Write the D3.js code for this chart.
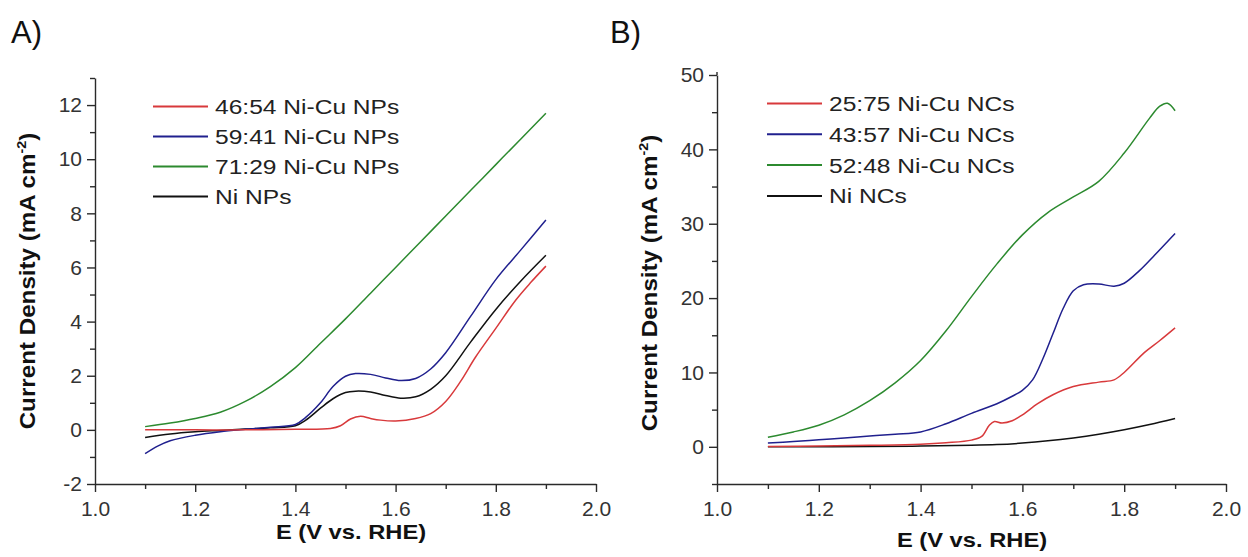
<!DOCTYPE html>
<html><head><meta charset="utf-8">
<script src="https://cdn.jsdelivr.net/npm/d3@7"></script>
<style>
body{margin:0;background:#fff;}
svg{display:block;font-family:"Liberation Sans",Arial,Helvetica,sans-serif;}
</style></head><body>
<svg id="chart" width="1248" height="557"></svg>
<script>
// ---------- data ----------
const xMajorTicks = [1.0, 1.2, 1.4, 1.6, 1.8, 2.0];
const xMinorTicks = [1.1, 1.3, 1.5, 1.7, 1.9];
const xTickLabels = ["1.0", "1.2", "1.4", "1.6", "1.8", "2.0"];
const aYMajorTicks = [-2, 0, 2, 4, 6, 8, 10, 12];
const aYMinorTicks = [-1, 1, 3, 5, 7, 9, 11, 13];
const bYMajorTicks = [0, 10, 20, 30, 40, 50];
const bYMinorTicks = [-5, 5, 15, 25, 35, 45];
const panelLabels = ["A)", "B)"];
const yTitle = "Current Density (mA cm";
const yTitleSup = "-2";
const xTitle = "E (V vs. RHE)";

const aSeriesNames = ["46:54 Ni-Cu NPs", "59:41 Ni-Cu NPs", "71:29 Ni-Cu NPs", "Ni NPs"];
const bSeriesNames = ["25:75 Ni-Cu NCs", "43:57 Ni-Cu NCs", "52:48 Ni-Cu NCs", "Ni NCs"];
const seriesColors = ["#d8393b", "#20208e", "#2c8a2f", "#111111"];

// Panel A series: [E (V), j (mA cm^-2)]
const aRed = [[1.10,0.0],[1.20,0.0],[1.30,0.0],[1.40,0.02],[1.47,0.05],[1.49,0.15],[1.51,0.4],[1.53,0.5],[1.55,0.42],[1.57,0.36],[1.60,0.33],[1.64,0.42],[1.67,0.6],[1.70,1.05],[1.73,1.8],[1.76,2.7],[1.80,3.75],[1.84,4.8],[1.87,5.45],[1.90,6.05]];
const aBlue = [[1.10,-0.88],[1.125,-0.6],[1.15,-0.4],[1.20,-0.2],[1.25,-0.07],[1.30,0.02],[1.35,0.1],[1.40,0.2],[1.42,0.45],[1.45,1.0],[1.475,1.6],[1.50,1.98],[1.52,2.08],[1.55,2.05],[1.58,1.92],[1.61,1.82],[1.64,1.9],[1.67,2.25],[1.70,2.85],[1.75,4.2],[1.80,5.55],[1.85,6.65],[1.90,7.75]];
const aGreen = [[1.10,0.12],[1.15,0.25],[1.20,0.42],[1.25,0.65],[1.30,1.05],[1.35,1.6],[1.40,2.3],[1.45,3.2],[1.50,4.1],[1.55,5.05],[1.60,6.0],[1.65,6.95],[1.70,7.9],[1.75,8.85],[1.80,9.8],[1.85,10.75],[1.90,11.7]];
const aBlack = [[1.10,-0.28],[1.15,-0.15],[1.20,-0.07],[1.25,-0.02],[1.30,0.03],[1.35,0.08],[1.40,0.15],[1.42,0.35],[1.45,0.8],[1.475,1.15],[1.50,1.38],[1.52,1.43],[1.55,1.4],[1.58,1.27],[1.61,1.17],[1.64,1.22],[1.67,1.5],[1.70,2.0],[1.75,3.25],[1.80,4.45],[1.85,5.5],[1.90,6.45]];

// Panel B series
const bRed = [[1.10,0.05],[1.20,0.1],[1.30,0.2],[1.40,0.35],[1.45,0.55],[1.50,0.9],[1.52,1.4],[1.535,2.9],[1.545,3.4],[1.56,3.2],[1.58,3.5],[1.60,4.3],[1.63,5.8],[1.66,7.0],[1.70,8.1],[1.75,8.7],[1.78,9.0],[1.80,10.0],[1.84,12.7],[1.87,14.3],[1.90,16.0]];
const bBlue = [[1.10,0.5],[1.15,0.7],[1.20,0.95],[1.25,1.2],[1.30,1.45],[1.35,1.7],[1.40,2.0],[1.45,3.1],[1.50,4.5],[1.55,5.8],[1.58,6.8],[1.60,7.6],[1.62,9.0],[1.64,11.8],[1.66,15.2],[1.68,18.6],[1.70,21.0],[1.72,21.8],[1.75,21.9],[1.78,21.6],[1.80,22.0],[1.83,23.7],[1.86,25.8],[1.90,28.7]];
const bGreen = [[1.10,1.3],[1.15,2.0],[1.20,2.9],[1.25,4.3],[1.30,6.2],[1.35,8.6],[1.40,11.6],[1.45,15.6],[1.50,20.2],[1.55,24.6],[1.60,28.5],[1.65,31.5],[1.70,33.6],[1.75,35.7],[1.80,39.5],[1.85,44.2],[1.87,45.8],[1.885,46.2],[1.90,45.2]];
const bBlack = [[1.10,0.0],[1.20,0.0],[1.30,0.05],[1.40,0.1],[1.50,0.2],[1.55,0.3],[1.60,0.5],[1.65,0.8],[1.70,1.2],[1.75,1.7],[1.80,2.3],[1.85,3.0],[1.90,3.8]];

// ---------- drawing ----------
const svg = d3.select("#chart");

function drawPanel(p) {
  const g = svg.append("g");
  const x = d3.scaleLinear().domain([1.0, 2.0]).range([p.left, p.right]);
  const y = d3.scaleLinear().domain(p.yDomain).range([p.bottom, p.top]);

  // curves
  const line = d3.line().x(d => x(d[0])).y(d => y(d[1])).curve(d3.curveCatmullRom.alpha(0.5));
  p.order.forEach(i => {
    g.append("path").datum(p.series[i])
      .attr("fill", "none").attr("stroke", seriesColors[i])
      .attr("stroke-width", 1.5).attr("stroke-linejoin", "round")
      .attr("d", line);
  });

  // axes
  const axStroke = "#2a2a2a";
  const xMinor = g.append("g").attr("transform", `translate(0,${p.bottom})`)
    .call(d3.axisBottom(x).tickValues(xMinorTicks).tickSize(5).tickFormat(""));
  const xMajor = g.append("g").attr("transform", `translate(0,${p.bottom})`)
    .call(d3.axisBottom(x).tickValues(xMajorTicks).tickSize(8).tickSizeOuter(0).tickPadding(9)
      .tickFormat((d, i) => xTickLabels[i]));
  const yMinor = g.append("g").attr("transform", `translate(${p.left},0)`)
    .call(d3.axisLeft(y).tickValues(p.yMinor).tickSize(5).tickFormat(""));
  const yMajor = g.append("g").attr("transform", `translate(${p.left},0)`)
    .call(d3.axisLeft(y).tickValues(p.yMajor).tickSize(8).tickSizeOuter(0).tickPadding(5)
      .tickFormat(d => String(d)));
  [xMinor, xMajor, yMinor, yMajor].forEach(a => {
    a.selectAll("path,line").attr("stroke", axStroke).attr("stroke-width", 1.4);
    a.selectAll("text").attr("fill", "#333").style("font-size", "21px");
  });
  xMinor.select(".domain").remove();
  yMinor.select(".domain").remove();
  g.append("line").attr("x1", p.left).attr("x2", p.left)
    .attr("y1", y(p.yDomain[1])).attr("y2", p.top - p.topExtra)
    .attr("stroke", axStroke).attr("stroke-width", 1.4);

  // axis titles
  const yt = g.append("text")
    .attr("transform", `translate(${p.yTitleX},${p.yTitleY}) rotate(-90) scale(1.1,1)`)
    .attr("text-anchor", "middle").attr("font-weight", "bold")
    .style("font-size", "22px").attr("fill", "#111");
  yt.append("tspan").text(yTitle);
  yt.append("tspan").text(yTitleSup).style("font-size", "13px").attr("dy", "-9");
  yt.append("tspan").text(")").style("font-size", "22px").attr("dy", "9");

  g.append("text")
    .attr("transform", `translate(${p.xTitleX},${p.xTitleY}) scale(1.13,1)`)
    .attr("text-anchor", "middle").attr("font-weight", "bold")
    .style("font-size", "21px").attr("fill", "#111").text(xTitle);

  // legend
  p.names.forEach((name, i) => {
    const ly = p.legY + i * p.legStep;
    g.append("line").attr("x1", p.legX).attr("x2", p.legX + 55)
      .attr("y1", ly).attr("y2", ly)
      .attr("stroke", seriesColors[i]).attr("stroke-width", 2);
    g.append("text")
      .attr("transform", `translate(${p.legX + 62},${ly}) scale(1.17,1)`)
      .attr("dy", "0.36em").style("font-size", "21px").attr("fill", "#222")
      .text(name);
  });

  // panel label
  g.append("text").attr("x", p.labelX).attr("y", 43)
    .style("font-size", "31px").attr("fill", "#111").text(p.label);
}

drawPanel({
  left: 95, right: 596, top: 78, bottom: 484, topExtra: 0,
  yDomain: [-2, 13], yMajor: aYMajorTicks, yMinor: aYMinorTicks,
  series: [aRed, aBlue, aGreen, aBlack], order: [2, 3, 1, 0],
  names: aSeriesNames, legX: 153, legY: 106.5, legStep: 30,
  yTitleX: 35, yTitleY: 281, xTitleX: 351, xTitleY: 539,
  label: panelLabels[0], labelX: 11
});

drawPanel({
  left: 717, right: 1226, top: 75, bottom: 484, topExtra: 3,
  yDomain: [-5, 50], yMajor: bYMajorTicks, yMinor: bYMinorTicks,
  series: [bRed, bBlue, bGreen, bBlack], order: [2, 1, 3, 0],
  names: bSeriesNames, legX: 767, legY: 103.5, legStep: 30.8,
  yTitleX: 657, yTitleY: 283, xTitleX: 972, xTitleY: 547,
  label: panelLabels[1], labelX: 610
});
</script>
</body></html>
